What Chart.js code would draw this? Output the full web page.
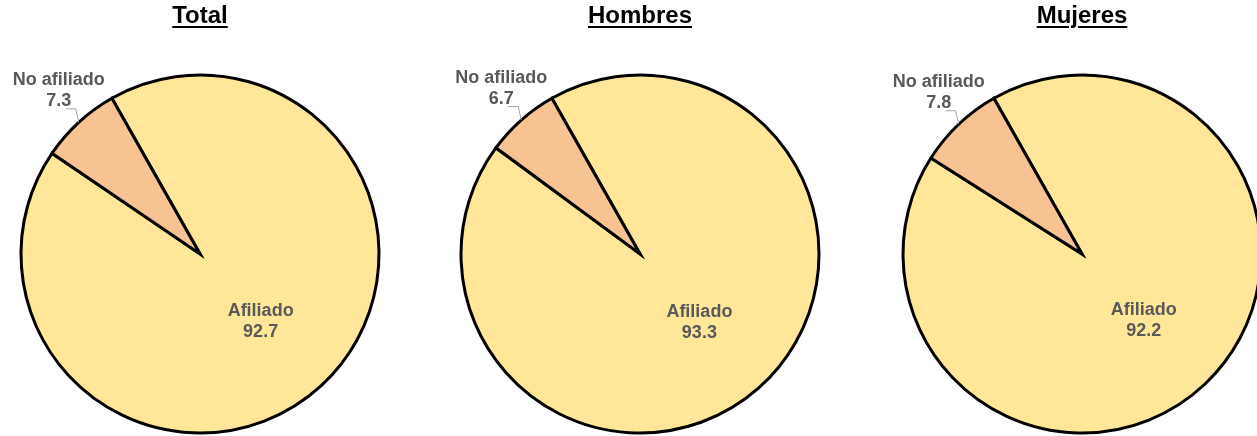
<!DOCTYPE html>
<html>
<head>
<meta charset="utf-8">
<script src="https://cdn.jsdelivr.net/npm/chart.js@4/dist/chart.umd.min.js"></script>
<style>
  html, body { margin: 0; padding: 0; background: #fff; }
  body { width: 1257px; height: 436px; position: relative; overflow: hidden; }
  .panel { position: absolute; top: 0; width: 420px; height: 436px; }
  .panel canvas { position: absolute; left: 0; top: 0; }
  .title {
    position: absolute; top: 1px; left: 0; width: 420px; text-align: center;
    font: bold 24px "Liberation Sans", Arial, sans-serif; color: #000;
    text-decoration: underline; text-decoration-thickness: 2px; text-underline-offset: 3px;
  }
</style>
</head>
<body>
<script>
// Afiliación por sexo (%)
const categories = ['Afiliado', 'No afiliado'];
const panelTitles = ['Total', 'Hombres', 'Mujeres'];
const afiliado = [92.7, 93.3, 92.2];
const noAfiliado = [7.3, 6.7, 7.8];

const sliceColors = ['#FFE699', '#F8C393'];
const centersX = [200, 640, 1082];
const pieRadius = 179;
const labelFont = 'bold 18px "Liberation Sans", Arial, sans-serif';
const labelColor = '#595959';

// Draws two-line category/value labels; the small slice gets an outside label with a leader line.
const sliceLabels = {
  id: 'sliceLabels',
  afterDatasetsDraw(chart) {
    const ctx = chart.ctx;
    const ds = chart.data.datasets[0];
    const arcs = chart.getDatasetMeta(0).data;
    ctx.save();
    ctx.font = labelFont;
    ctx.fillStyle = labelColor;
    ctx.textAlign = 'center';
    ctx.textBaseline = 'alphabetic';
    arcs.forEach((arc, i) => {
      const mid = (arc.startAngle + arc.endAngle) / 2;
      const r = arc.outerRadius;
      const valueText = ds.data[i].toFixed(1);
      let cx, cy;
      if (i === 0) {
        cx = arc.x + Math.cos(mid) * r * 0.5;
        cy = arc.y + Math.sin(mid) * r * 0.5;
      } else {
        const ex = arc.x + Math.cos(mid) * r;
        const ey = arc.y + Math.sin(mid) * r;
        cx = ex - 20;
        cy = ey - 33;
        ctx.save();
        ctx.strokeStyle = '#A6A6A6';
        ctx.lineWidth = 1;
        ctx.beginPath();
        ctx.moveTo(ex, ey);
        ctx.lineTo(ex - 3, cy + 19.5);
        ctx.lineTo(cx + 7, cy + 19.5);
        ctx.stroke();
        ctx.restore();
      }
      ctx.fillText(chart.data.labels[i], cx, cy - 4);
      ctx.fillText(valueText, cx, cy + 17);
    });
    ctx.restore();
  }
};

panelTitles.forEach((title, k) => {
  const panel = document.createElement('div');
  panel.className = 'panel';
  panel.style.left = (centersX[k] - 210) + 'px';
  const head = document.createElement('div');
  head.className = 'title';
  head.textContent = title;
  const canvas = document.createElement('canvas');
  canvas.width = 420;
  canvas.height = 436;
  canvas.style.width = '420px';
  canvas.style.height = '436px';
  panel.appendChild(canvas);
  panel.appendChild(head);
  document.body.appendChild(panel);

  new Chart(canvas, {
    type: 'pie',
    data: {
      labels: categories,
      datasets: [{
        data: [afiliado[k], noAfiliado[k]],
        backgroundColor: sliceColors,
        borderColor: '#000',
        borderWidth: 3,
        borderJoinStyle: 'miter'
      }]
    },
    options: {
      responsive: false,
      maintainAspectRatio: false,
      animation: false,
      devicePixelRatio: 1,
      rotation: -29.5,
      radius: pieRadius,
      layout: { padding: { top: 72, left: 0, right: 0, bottom: 0 } },
      plugins: {
        legend: { display: false },
        tooltip: { enabled: false },
        title: { display: false }
      }
    },
    plugins: [sliceLabels]
  });
});
</script>
</body>
</html>
